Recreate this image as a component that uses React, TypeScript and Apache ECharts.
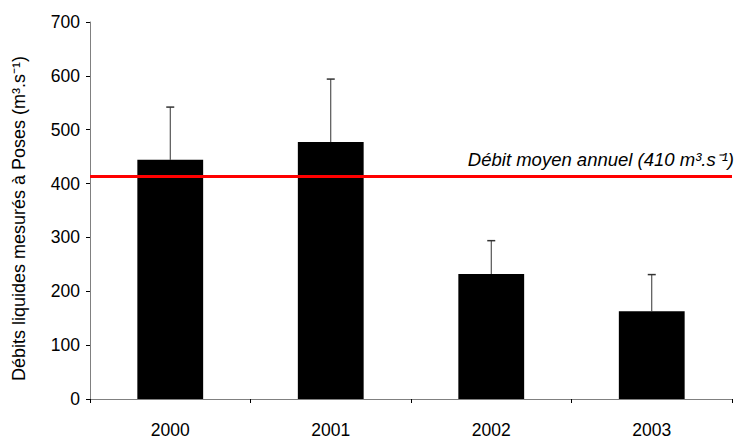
import React, { useEffect, useRef } from "react";
import * as echarts from "echarts";

const years = ["2000", "2001", "2002", "2003"];
const meanFlow = [444, 477, 232, 163];
const errorTop = [542, 594, 294, 231];
const annualMean = 413;
const annualLabel = "Débit moyen annuel (410 m³.s⁻¹)";
const yName = "Débits liquides mesurés à Poses (m³.s⁻¹)";

export default function App() {
  const ref = useRef<HTMLDivElement>(null);
  useEffect(() => {
    document.body.style.margin = "0";
    const chart = echarts.init(ref.current!, null, { renderer: "svg" });
    const font = "'Liberation Sans', Arial, sans-serif";
    chart.setOption({
      animation: false,
      backgroundColor: "#ffffff",
      textStyle: { fontFamily: font },
      grid: { left: 90, right: 4, top: 22, bottom: 40 },
      xAxis: {
        type: "category",
        data: years,
        axisLine: { lineStyle: { color: "#808080", width: 1 } },
        axisTick: { show: true, length: 4, lineStyle: { color: "#000" } },
        axisLabel: { color: "#000", fontSize: 17.5, margin: 22, fontFamily: font },
      },
      yAxis: {
        type: "value",
        min: 0,
        max: 700,
        interval: 100,
        name: yName,
        nameLocation: "middle",
        nameGap: 62,
        nameTextStyle: { color: "#000", fontSize: 18, fontFamily: font, padding: [0, 16, 0, 0] },
        axisLine: { show: true, lineStyle: { color: "#808080", width: 1 } },
        axisTick: { show: true, length: 4, lineStyle: { color: "#000" } },
        axisLabel: { color: "#000", fontSize: 17.5, margin: 10, fontFamily: font },
        splitLine: { show: false },
      },
      series: [
        {
          type: "bar",
          data: meanFlow,
          barWidth: "41%",
          itemStyle: { color: "#000" },
          z: 2,
          markLine: {
            silent: true,
            symbol: "none",
            lineStyle: { color: "#ff0000", width: 3, type: "solid" },
            label: {
              show: true,
              position: "insideEndTop",
              formatter: annualLabel,
              color: "#000",
              fontSize: 18.5,
              fontStyle: "italic",
              fontFamily: font,
              distance: [-2, 8],
            },
            data: [{ yAxis: annualMean }],
            z: 5,
          },
        },
        {
          type: "custom",
          z: 3,
          data: years.map((_, i) => [i, meanFlow[i], errorTop[i]]),
          renderItem: (params: any, api: any) => {
            const x = api.value(0);
            const base = api.coord([x, api.value(1)]);
            const top = api.coord([x, api.value(2)]);
            const cap = 4;
            return {
              type: "group",
              children: [
                {
                  type: "line",
                  shape: { x1: base[0], y1: base[1], x2: top[0], y2: top[1] },
                  style: { stroke: "#333", lineWidth: 1 },
                },
                {
                  type: "line",
                  shape: { x1: top[0] - cap, y1: top[1], x2: top[0] + cap, y2: top[1] },
                  style: { stroke: "#333", lineWidth: 1.5 },
                },
              ],
            };
          },
        },
      ],
    });
    return () => chart.dispose();
  }, []);
  return (
    <div
      ref={ref}
      style={{ position: "absolute", left: 0, top: 0, width: 736, height: 439 }}
    />
  );
}
